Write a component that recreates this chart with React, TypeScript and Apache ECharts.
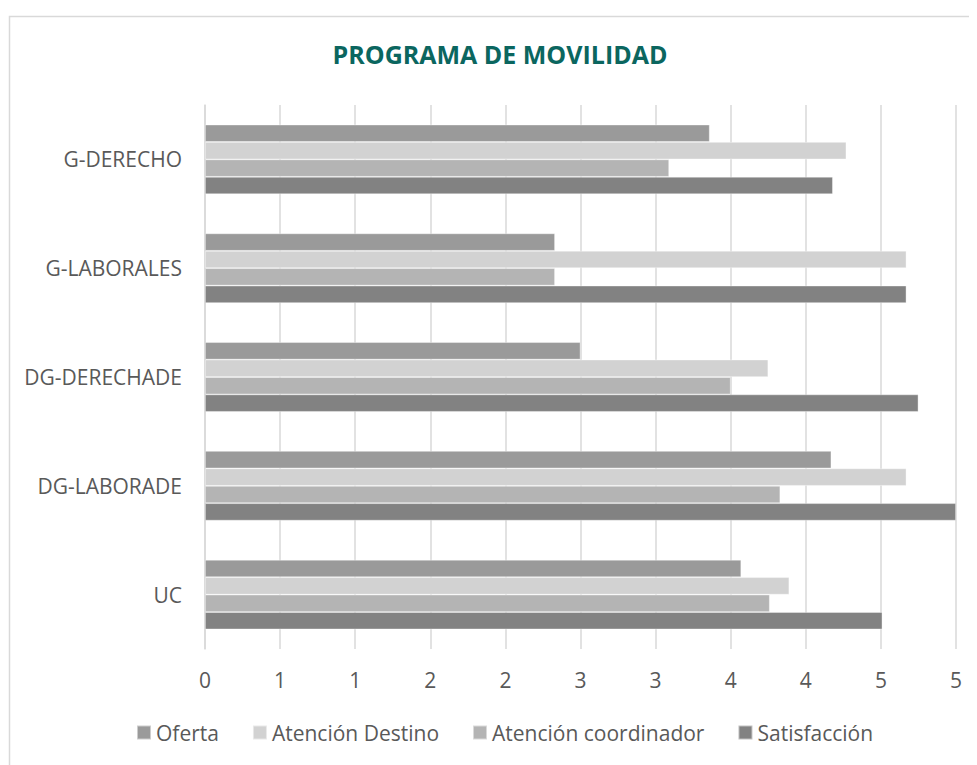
import React, { useEffect, useRef } from "react";
import * as echarts from "echarts";

const categories = ["G-DERECHO", "G-LABORALES", "DG-DERECHADE", "DG-LABORADE", "UC"];
const seriesNames = ["Oferta", "Atención Destino", "Atención coordinador", "Satisfacción"];
const oferta = [3.36, 2.33, 2.5, 4.17, 3.57];
const atencionDestino = [4.27, 4.67, 3.75, 4.67, 3.89];
const atencionCoordinador = [3.09, 2.33, 3.5, 3.83, 3.76];
const satisfaccion = [4.18, 4.67, 4.75, 5.0, 4.51];
const seriesValues = [oferta, atencionDestino, atencionCoordinador, satisfaccion];
const seriesColors = ["#9a9a9a", "#d2d2d2", "#b4b4b4", "#828282"];
const titleText = "PROGRAMA DE MOVILIDAD";

export default function App() {
  const ref = useRef<HTMLDivElement>(null);
  useEffect(() => {
    if (!ref.current) return;
    const chart = echarts.init(ref.current, null, { renderer: "svg" });
    const font = "'Open Sans', sans-serif";
    chart.setOption({
      animation: false,
      backgroundColor: "#ffffff",
      graphic: [
        {
          type: "rect",
          z: -10,
          shape: { x: 1.5, y: 8.5, width: 1100, height: 1100 },
          style: { fill: "none", stroke: "#d9d9d9", lineWidth: 1.5 },
        },
        {
          type: "text",
          x: 492,
          y: 46,
          style: {
            text: titleText,
            fill: "#0b665f",
            font: `bold 25px ${font}`,
            textAlign: "center",
            textVerticalAlign: "middle",
          },
        },
      ],
      grid: { left: 197, top: 97, width: 751, height: 544, containLabel: false },
      legend: {
        data: seriesNames,
        left: 128,
        top: 714,
        padding: 0,
        itemWidth: 14,
        itemHeight: 14,
        itemGap: 33,
        icon: "rect",
        textStyle: { color: "#595959", fontSize: 21, fontFamily: font },
      },
      xAxis: {
        type: "value",
        min: 0,
        max: 5,
        interval: 0.5,
        axisLine: { show: false },
        axisTick: { show: false },
        splitLine: { lineStyle: { color: "#d9d9d9", width: 1.5 } },
        axisLabel: {
          color: "#595959",
          fontSize: 21,
          fontFamily: font,
          margin: 20,
          formatter: (v: number) => String(Math.round(v)),
        },
      },
      yAxis: {
        type: "category",
        data: categories,
        inverse: true,
        axisLine: { show: true, lineStyle: { color: "#d9d9d9", width: 1.5 } },
        axisTick: { show: false },
        axisLabel: { color: "#595959", fontSize: 21, fontFamily: font, margin: 23 },
      },
      series: seriesNames.map((name, i) => ({
        name,
        type: "bar",
        data: seriesValues[i],
        barGap: "0%",
        barCategoryGap: "36%",
        itemStyle: { color: seriesColors[i], borderColor: "rgba(255,255,255,0.5)", borderWidth: 0.75 },
      })),
    });
    return () => chart.dispose();
  }, []);
  return (
    <div style={{ width: 969, height: 757, overflow: "hidden" }}>
      <div ref={ref} style={{ width: 969, height: 757 }} />
    </div>
  );
}
